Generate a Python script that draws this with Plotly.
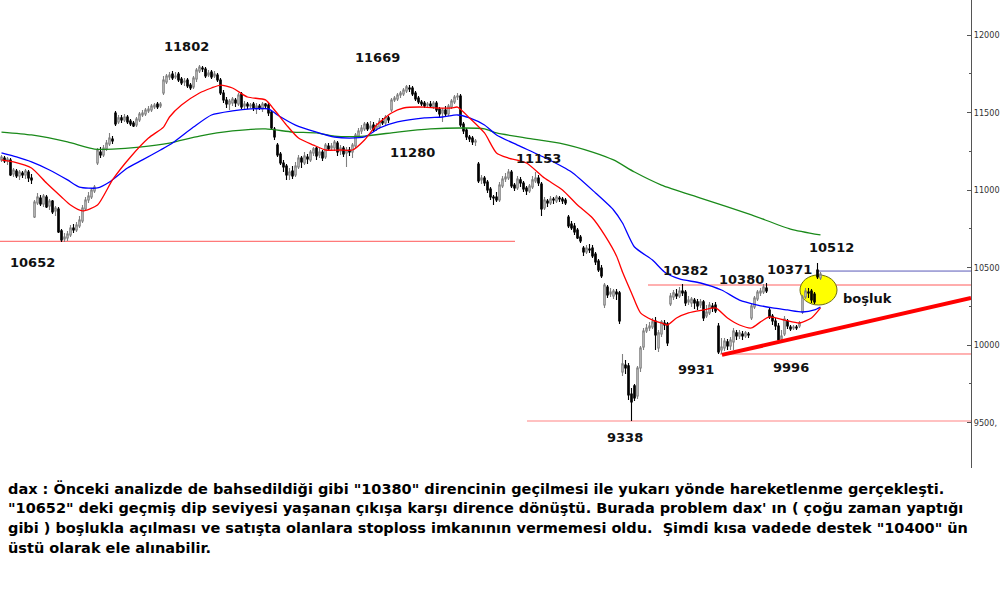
import plotly.graph_objects as go

# ---------------- data ----------------
opens = [
11194,11206,11187,11194,11103,11123,11090,11110,11097,11116,
11077,10826,10916,10948,10910,10955,10897,10929,10865,10877,
10736,10684,10690,10710,10755,10742,10768,10800,10877,10935,
10955,10994,11174,11245,11226,11265,11297,11329,11497,11439,
11465,11452,11471,11445,11432,11419,11452,11484,11490,11510,
11516,11535,11555,11542,11626,11697,11729,11748,11729,11748,
11716,11697,11710,11677,11665,11716,11768,11787,11781,11742,
11761,11735,11742,11710,11626,11581,11555,11561,11581,11555,
11619,11542,11555,11542,11555,11529,11542,11523,11555,11548,
11503,11394,11290,11232,11174,11155,11097,11123,11097,11148,
11206,11174,11213,11194,11239,11271,11226,11245,11213,11284,
11271,11271,11303,11252,11271,11239,11258,11245,11284,11348,
11381,11394,11426,11400,11419,11394,11406,11445,11432,11465,
11516,11581,11587,11613,11619,11639,11658,11658,11626,11594,
11568,11561,11548,11555,11535,11561,11523,11497,11516,11490,
11535,11568,11600,11606,11426,11387,11342,11335,11310,11168,
11065,11077,11052,11006,10955,10955,10935,11026,11071,11077,
11116,11032,11013,11065,11045,11013,10994,11019,11058,11077,
11039,10884,10929,10916,10942,10929,10948,10942,10935,10826,
10781,10768,10742,10697,10626,10600,10619,10626,10587,10542,
10497,10258,10374,10329,10316,10342,10336,9826,9871,9865,
9684,9736,9671,9852,9987,10090,10110,10116,10155,9981,
10071,10142,10136,10265,10310,10329,10316,10348,10342,10278,
10271,10290,10278,10258,10278,10187,10207,10252,10258,10123,
9968,9981,10020,9994,10020,10078,10058,10071,10058,10071,
10174,10245,10297,10336,10342,10368,10226,10187,10155,10123,
10039,10071,10155,10116,10110,10116,10123,10213,10310,10342,
10348,10329,10484,10432]

highs = [
11226,11219,11213,11206,11142,11135,11129,11123,11135,11129,
11103,10935,10981,10968,10974,10968,10942,10935,10897,10890,
10748,10723,10736,10774,10781,10794,10832,10903,10955,10987,
11013,11032,11271,11277,11290,11323,11368,11348,11510,11484,
11484,11490,11484,11458,11445,11471,11503,11516,11529,11542,
11555,11561,11568,11568,11735,11748,11761,11768,11761,11761,
11729,11723,11723,11690,11735,11787,11806,11800,11794,11774,
11774,11768,11755,11723,11645,11600,11587,11600,11594,11626,
11632,11574,11568,11561,11568,11561,11555,11568,11561,11561,
11516,11406,11303,11245,11194,11168,11142,11155,11181,11226,
11219,11245,11232,11258,11277,11277,11271,11258,11303,11303,
11303,11323,11316,11290,11284,11277,11277,11303,11368,11400,
11419,11439,11439,11445,11439,11432,11465,11465,11484,11477,
11594,11606,11626,11639,11658,11677,11677,11671,11639,11606,
11581,11574,11568,11574,11574,11574,11535,11529,11542,11555,
11587,11613,11626,11619,11439,11400,11355,11348,11329,11181,
11097,11090,11065,11019,10968,10987,11052,11090,11110,11135,
11129,11045,11090,11084,11058,11026,11039,11090,11116,11097,
11052,10955,10942,10961,10955,10968,10961,10955,10948,10839,
10800,10787,10755,10710,10639,10645,10652,10645,10600,10555,
10516,10400,10387,10368,10361,10361,10348,9942,9903,9884,
9723,9748,9865,9994,10110,10136,10149,10174,10181,10097,
10161,10161,10149,10336,10355,10361,10374,10394,10355,10316,
10310,10303,10297,10297,10290,10258,10278,10271,10278,10142,
10045,10045,10039,10052,10110,10097,10097,10090,10090,10084,
10265,10316,10355,10368,10394,10400,10239,10200,10174,10142,
10097,10187,10168,10129,10129,10129,10155,10323,10368,10368,
10361,10342,10529,10471]

lows = [
11181,11174,11161,11090,11084,11077,11065,11077,11071,11052,
11039,10819,10903,10897,10890,10884,10871,10845,10832,10723,
10665,10665,10671,10697,10723,10729,10755,10787,10865,10916,
10942,10981,11161,11206,11213,11252,11284,11297,11413,11426,
11432,11439,11426,11413,11406,11406,11439,11471,11477,11497,
11503,11523,11523,11529,11613,11684,11710,11710,11716,11697,
11677,11671,11658,11645,11652,11697,11755,11761,11723,11729,
11716,11723,11697,11613,11561,11529,11516,11542,11535,11542,
11523,11516,11523,11529,11510,11490,11516,11503,11523,11477,
11387,11323,11213,11161,11116,11065,11065,11071,11084,11135,
11142,11161,11168,11181,11219,11194,11206,11187,11200,11252,
11258,11252,11219,11226,11213,11148,11219,11206,11271,11335,
11361,11381,11381,11387,11374,11381,11394,11419,11419,11432,
11503,11568,11574,11594,11606,11626,11632,11606,11574,11555,
11542,11529,11529,11529,11523,11503,11471,11439,11477,11477,
11523,11555,11581,11406,11361,11323,11310,11290,11284,11045,
11039,11026,10981,10935,10903,10923,10923,11013,11052,11065,
11013,10994,11000,11019,10987,10968,10981,11006,11045,11026,
10832,10871,10890,10903,10910,10916,10923,10910,10903,10755,
10742,10710,10684,10658,10574,10587,10594,10561,10516,10471,
10432,10239,10303,10310,10297,10290,10136,9800,9813,9645,
9510,9639,9652,9826,9968,10078,10090,10103,9968,9955,
10052,10097,9994,10252,10290,10297,10303,10316,10252,10258,
10245,10232,10226,10239,10155,10174,10194,10213,10207,9942,
9942,9962,9968,9968,9968,10032,10039,10032,10045,10045,
10161,10232,10284,10316,10329,10336,10168,10129,10097,10013,
10020,10058,10103,10090,10097,10097,10110,10200,10297,10303,
10271,10265,10426,10419]

closes = [
11213,11187,11200,11097,11129,11090,11116,11097,11123,11077,
11065,10923,10955,10910,10961,10890,10929,10858,10884,10729,
10677,10697,10716,10755,10742,10774,10806,10884,10935,10961,
11000,11019,11258,11226,11271,11303,11335,11316,11426,11465,
11452,11471,11439,11426,11413,11458,11490,11497,11516,11523,
11542,11548,11535,11555,11710,11735,11742,11723,11735,11710,
11690,11703,11671,11658,11723,11774,11794,11781,11735,11755,
11729,11748,11710,11626,11581,11555,11574,11587,11561,11613,
11535,11555,11542,11548,11529,11542,11529,11555,11542,11497,
11400,11342,11226,11174,11148,11097,11116,11090,11155,11206,
11181,11219,11200,11245,11265,11219,11245,11206,11290,11265,
11284,11310,11245,11271,11232,11258,11245,11290,11355,11381,
11400,11426,11394,11413,11387,11413,11445,11432,11471,11452,
11581,11594,11613,11626,11645,11665,11652,11619,11587,11568,
11555,11542,11555,11542,11561,11516,11490,11516,11490,11542,
11574,11600,11606,11419,11381,11342,11329,11310,11316,11058,
11077,11045,11000,10955,10948,10935,11032,11071,11084,11116,
11026,11013,11071,11045,11006,10994,11026,11065,11077,11045,
10877,10935,10916,10942,10935,10955,10942,10929,10916,10768,
10755,10729,10690,10671,10600,10626,10613,10574,10536,10484,
10445,10387,10323,10342,10348,10329,10155,9878,9852,9678,
9632,9658,9852,9981,10090,10110,10123,10149,10065,10078,
10149,10129,10013,10316,10336,10316,10348,10336,10271,10290,
10297,10271,10252,10278,10174,10213,10258,10239,10219,9955,
9987,10026,9994,10032,10090,10058,10078,10058,10078,10065,
10252,10303,10342,10348,10374,10348,10181,10155,10123,10032,
10058,10168,10123,10103,10116,10110,10142,10310,10348,10336,
10290,10278,10439,10458]

bar_index = list(range(len(closes)))

# moving averages (bar index -> value)
ma_fast_x = [0,4,10,15,20,23,27,32,37,43,49,54,56,60,66,70,73,77,82,88,91,95,99,104,108,
             113,117,121,125,130,134,141,145,150,152,156,161,165,169,175,181,187,192,197,201,
             205,207,210,213,217,220,222,225,229,234,238,242,246,250,253,256,261,266,270,273]
ma_fast_y = [11194,11181,11142,11045,10955,10903,10865,10903,11065,11213,11335,11406,11471,11548,11626,
             11658,11677,11658,11600,11581,11516,11419,11335,11290,11258,11258,11258,11323,11419,11497,
             11529,11535,11529,11529,11535,11465,11368,11239,11206,11174,11077,11000,10903,10819,10710,
             10574,10471,10336,10207,10161,10142,10129,10174,10207,10226,10239,10174,10129,10110,10149,
             10181,10161,10142,10174,10239]

ma_mid_x = [0,5,10,16,22,26,32,36,42,47,53,57,64,70,77,83,89,92,98,105,111,116,121,126,132,141,147,
            152,156,161,165,172,182,190,198,204,207,211,217,221,226,233,240,246,252,257,262,267,271,273]
ma_mid_y = [11239,11213,11181,11129,11065,11019,11013,11052,11142,11194,11258,11303,11406,11484,11510,
            11523,11523,11484,11419,11374,11342,11335,11342,11400,11439,11465,11471,11484,11465,11419,
            11355,11290,11200,11116,10981,10871,10787,10632,10548,10471,10426,10400,10355,10290,10258,
            10239,10226,10213,10226,10245]

ma_slow_x = [0,10,22,31,37,46,56,66,77,88,97,105,111,121,132,143,154,161,165,175,186,197,204,211,
             220,233,250,263,273]
ma_slow_y = [11374,11355,11310,11264,11264,11277,11303,11348,11381,11394,11374,11368,11348,11348,11374,
             11394,11400,11394,11368,11335,11303,11245,11194,11116,11032,10948,10839,10748,10710]

# levels
level_old_low = 10668
level_resist = 10387
level_gap_top = 10477
level_low_9931 = 9942
level_low_9338 = 9510
trend_start = 9936
trend_end = 10303

y_tickvals = [9500, 10000, 10500, 11000, 11500, 12000]
y_ticktext = ["9500,", "10000", "10500", "11000", "11500", "12000"]

labels = ["11802", "11669", "11280", "11153", "10652", "10382", "10380",
          "10371", "10512", "boşluk", "9931", "9996", "9338"]
label_px = [(186, 47), (377, 57), (412, 153), (538, 158), (32, 262), (685, 270), (741, 279),
            (789, 269), (831, 247), (867, 298), (696, 369), (791, 367), (625, 437)]

comment_lines = [
    'dax : Önceki analizde de bahsedildiği gibi "10380" direncinin geçilmesi ile yukarı yönde hareketlenme gerçekleşti.',
    '"10652" deki geçmiş dip seviyesi yaşanan çıkışa karşı dirence dönüştü. Burada problem dax\' ın ( çoğu zaman yaptığı',
    'gibi ) boşlukla açılması ve satışta olanlara stoploss imkanının vermemesi oldu.\u00a0 Şimdi kısa vadede destek "10400" ün',
    'üstü olarak ele alınabilir.',
]
comment_py = [488, 508, 528, 548]

# ---------------- layout geometry ----------------
PLOT_W, PLOT_H = 971, 468
X_MIN = -0.5
X_MAX = (PLOT_W - 1.5) / 3.0
Y_MIN, Y_MAX = 12225.8 - 6.4516 * PLOT_H, 12225.8


def px_to_paper(px, py):
    return px / PLOT_W, 1 - py / PLOT_H


def px_to_x(px):
    return (px - 1.5) / 3.0


fig = go.Figure()

fig.add_trace(go.Candlestick(
    x=bar_index, open=opens, high=highs, low=lows, close=closes,
    increasing=dict(line=dict(color="#808080", width=1.1), fillcolor="white"),
    decreasing=dict(line=dict(color="black", width=1.1), fillcolor="black"),
    whiskerwidth=0, hoverinfo="skip", showlegend=False,
))
fig.add_trace(go.Scatter(x=ma_slow_x, y=ma_slow_y, mode="lines",
                         line=dict(color="#1a8a1a", width=1.3, shape="spline", smoothing=0.6),
                         hoverinfo="skip", showlegend=False))
fig.add_trace(go.Scatter(x=ma_mid_x, y=ma_mid_y, mode="lines",
                         line=dict(color="#0000ff", width=1.3, shape="spline", smoothing=0.6),
                         hoverinfo="skip", showlegend=False))
fig.add_trace(go.Scatter(x=ma_fast_x, y=ma_fast_y, mode="lines",
                         line=dict(color="#ff0000", width=1.3, shape="spline", smoothing=0.6),
                         hoverinfo="skip", showlegend=False))

shapes = [
    dict(type="line", x0=X_MIN, x1=px_to_x(515), y0=level_old_low, y1=level_old_low,
         line=dict(color="#ff7a7a", width=1.2), layer="below"),
    dict(type="line", x0=px_to_x(648), x1=px_to_x(805), y0=level_resist, y1=level_resist,
         line=dict(color="#ffb0b0", width=2), layer="below"),
    dict(type="line", x0=px_to_x(805), x1=X_MAX, y0=level_resist, y1=level_resist,
         line=dict(color="#ff5a5a", width=1), layer="below"),
    dict(type="line", x0=px_to_x(818), x1=X_MAX, y0=level_gap_top, y1=level_gap_top,
         line=dict(color="#5a5ab8", width=1), layer="below"),
    dict(type="line", x0=px_to_x(720), x1=X_MAX, y0=level_low_9931, y1=level_low_9931,
         line=dict(color="#ff6666", width=1), layer="below"),
    dict(type="line", x0=px_to_x(527), x1=X_MAX, y0=level_low_9338, y1=level_low_9338,
         line=dict(color="#ffadad", width=1.5), layer="below"),
    dict(type="circle", x0=px_to_x(800), x1=px_to_x(837), y0=10258, y1=10452,
         fillcolor="#ffff00", line=dict(color="#6b6b10", width=1), layer="below"),
    dict(type="line", x0=px_to_x(722), x1=X_MAX, y0=trend_start, y1=trend_end,
         line=dict(color="#ff0000", width=4), layer="above"),
]

annotations = []
for txt, (px, py) in zip(labels, label_px):
    xp, yp = px_to_paper(px, py)
    annotations.append(dict(
        text=txt, x=xp, y=yp, xref="paper", yref="paper", showarrow=False,
        xanchor="center", yanchor="middle",
        font=dict(family="DejaVu Sans", size=13, color="#111111", weight="bold"),
    ))
for line_txt, py in zip(comment_lines, comment_py):
    xp, yp = px_to_paper(6, py)
    annotations.append(dict(
        text=line_txt, x=xp, y=yp, xref="paper", yref="paper", showarrow=False,
        xanchor="left", yanchor="middle",
        font=dict(family="DejaVu Sans", size=14.5, color="#000000", weight="bold"),
    ))

fig.update_layout(
    width=1000, height=590,
    margin=dict(l=0, r=1000 - PLOT_W, t=0, b=590 - PLOT_H, pad=0),
    paper_bgcolor="white", plot_bgcolor="white",
    showlegend=False, hovermode=False,
    shapes=shapes, annotations=annotations,
    xaxis=dict(range=[X_MIN, X_MAX], visible=False, rangeslider=dict(visible=False),
               showgrid=False, zeroline=False),
    yaxis=dict(range=[Y_MIN, Y_MAX], side="right", showgrid=False, zeroline=False,
               showline=True, linecolor="#555555", linewidth=1, mirror=False,
               tickvals=y_tickvals, ticktext=y_ticktext,
               ticks="inside", ticklen=4, tickcolor="#555555", tickwidth=1,
               tickfont=dict(family="DejaVu Sans Condensed, DejaVu Sans", size=9, color="#333333"),
               minor=dict(tickvals=[9750, 10250, 10750, 11250, 11750], ticks="inside",
                          ticklen=2, tickcolor="#555555")),
)

fig.write_html("out.html", config={"displayModeBar": False},
               post_script="document.body.style.margin='0';")
